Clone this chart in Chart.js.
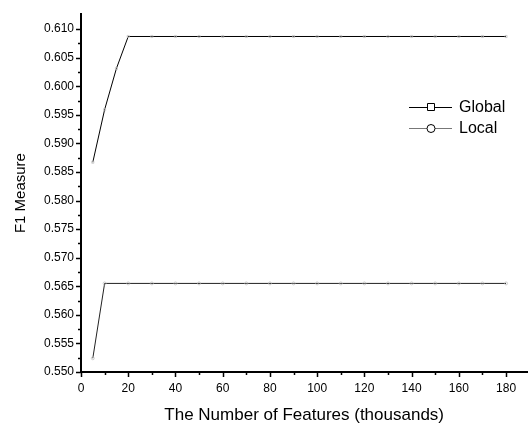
<!DOCTYPE html>
<html>
<head>
<meta charset="utf-8">
<script src="https://cdn.jsdelivr.net/npm/chart.js@4.4.1/dist/chart.umd.min.js"></script>
<style>
    html, body { margin: 0; padding: 0; background: #fff; }
    #wrap { width: 532px; height: 426px; }
</style>
</head>
<body>
<div id="wrap"><canvas id="f1Chart" width="532" height="426"></canvas></div>
<script>
// feature counts in thousands
const features = [5, 10, 15, 20, 30, 40, 50, 60, 70, 80, 90, 100, 110, 120, 130, 140, 150, 160, 170, 180];
const globalF1 = [0.5867, 0.5959, 0.6031, 0.6087, 0.6087, 0.6087, 0.6087, 0.6087, 0.6087, 0.6087,
                  0.6087, 0.6087, 0.6087, 0.6087, 0.6087, 0.6087, 0.6087, 0.6087, 0.6087, 0.6087];
const localFeatures = [5, 10, 20, 30, 40, 50, 60, 70, 80, 90, 100, 110, 120, 130, 140, 150, 160, 170, 180];
const localF1 = [0.5524, 0.5655, 0.5655, 0.5655, 0.5655, 0.5655, 0.5655, 0.5655, 0.5655, 0.5655,
                 0.5655, 0.5655, 0.5655, 0.5655, 0.5655, 0.5655, 0.5655, 0.5655, 0.5655];
const xTicks = [0, 20, 40, 60, 80, 100, 120, 140, 160, 180];
const yTicks = [0.550, 0.555, 0.560, 0.565, 0.570, 0.575, 0.580, 0.585, 0.590, 0.595, 0.600, 0.605, 0.610];

const font = 'Arial, "Liberation Sans", sans-serif';

function toPoints(xs, ys) {
    return xs.map((x, i) => ({ x: x, y: ys[i] }));
}

// minor + major tick marks pointing outwards
const tickMarks = {
    id: 'tickMarks',
    afterDraw(chart) {
        const ctx = chart.ctx;
        const x = chart.scales.x;
        const y = chart.scales.y;
        ctx.save();
        ctx.strokeStyle = '#000';
        ctx.lineWidth = 1.5;
        for (let v = 0; v <= 180; v += 10) {
            const px = Math.round(x.getPixelForValue(v)) + 0.5;
            const len = v % 20 === 0 ? 5 : 3;
            ctx.beginPath();
            ctx.moveTo(px, y.bottom);
            ctx.lineTo(px, y.bottom + len);
            ctx.stroke();
        }
        for (let i = 0; i <= 24; i++) {
            const py = Math.round(y.getPixelForValue(0.55 + i * 0.0025)) + 0.5;
            const len = i % 2 === 0 ? 5 : 3;
            ctx.beginPath();
            ctx.moveTo(x.left, py);
            ctx.lineTo(x.left - len, py);
            ctx.stroke();
        }
        ctx.restore();
    }
};

// legend with line + marker like the original plot
const lineLegend = {
    id: 'lineLegend',
    afterDraw(chart) {
        const ctx = chart.ctx;
        const items = [
            { label: 'Global', color: '#000', shape: 'rect', y: 107 },
            { label: 'Local', color: '#777', shape: 'circle', y: 128 }
        ];
        ctx.save();
        items.forEach(it => {
            ctx.strokeStyle = it.color;
            ctx.lineWidth = 1;
            ctx.beginPath();
            ctx.moveTo(409, it.y + 0.5);
            ctx.lineTo(452, it.y + 0.5);
            ctx.stroke();
            ctx.fillStyle = '#fff';
            ctx.strokeStyle = '#000';
            ctx.beginPath();
            if (it.shape === 'rect') {
                ctx.rect(427.5, it.y - 3.5, 7, 7);
            } else {
                ctx.arc(431, it.y + 0.5, 4, 0, Math.PI * 2);
            }
            ctx.fill();
            ctx.stroke();
            ctx.fillStyle = '#000';
            ctx.font = '16px ' + font;
            ctx.textBaseline = 'middle';
            ctx.fillText(it.label, 459, it.y + 1);
        });
        ctx.restore();
    }
};

new Chart(document.getElementById('f1Chart'), {
    type: 'line',
    data: {
        datasets: [
            {
                label: 'Global',
                data: toPoints(features, globalF1),
                borderColor: '#000',
                borderWidth: 1,
                pointStyle: 'rect',
                pointRadius: 1.5,
                pointBorderColor: '#bbb',
                pointBackgroundColor: 'rgba(0,0,0,0)',
                pointBorderWidth: 0.7,
                tension: 0
            },
            {
                label: 'Local',
                data: toPoints(localFeatures, localF1),
                borderColor: '#222',
                borderWidth: 1,
                pointStyle: 'circle',
                pointRadius: 1.5,
                pointBorderColor: '#bbb',
                pointBackgroundColor: 'rgba(0,0,0,0)',
                pointBorderWidth: 0.7,
                tension: 0
            }
        ]
    },
    options: {
        responsive: false,
        animation: false,
        layout: { padding: { top: 9, right: 0, left: 0, bottom: 0 } },
        plugins: {
            legend: { display: false },
            tooltip: { enabled: false }
        },
        scales: {
            x: {
                type: 'linear',
                min: 0,
                max: 189,
                afterBuildTicks(scale) {
                    scale.ticks = xTicks.map(v => ({ value: v }));
                },
                afterFit(scale) { scale.height = 54; },
                ticks: {
                    color: '#000',
                    font: { family: font, size: 12 },
                    padding: 9,
                    maxRotation: 0,
                    autoSkip: false
                },
                grid: { drawOnChartArea: false, drawTicks: false },
                border: { color: '#000', width: 2 },
                title: {
                    display: true,
                    text: 'The Number of Features (thousands)',
                    color: '#000',
                    font: { family: font, size: 17 },
                    padding: { top: 0, bottom: 0 }
                }
            },
            y: {
                type: 'linear',
                min: 0.55,
                max: 0.6126,
                afterBuildTicks(scale) {
                    scale.ticks = yTicks.map(v => ({ value: v }));
                },
                afterFit(scale) { scale.width = 81; },
                ticks: {
                    color: '#000',
                    font: { family: font, size: 12 },
                    padding: 7,
                    callback: v => v.toFixed(3)
                },
                grid: { drawOnChartArea: false, drawTicks: false },
                border: { color: '#000', width: 2 },
                title: {
                    display: true,
                    text: 'F1 Measure',
                    color: '#000',
                    font: { family: font, size: 15 },
                    padding: { top: 12, bottom: 0 }
                }
            }
        }
    },
    plugins: [tickMarks, lineLegend]
});
</script>
</body>
</html>
